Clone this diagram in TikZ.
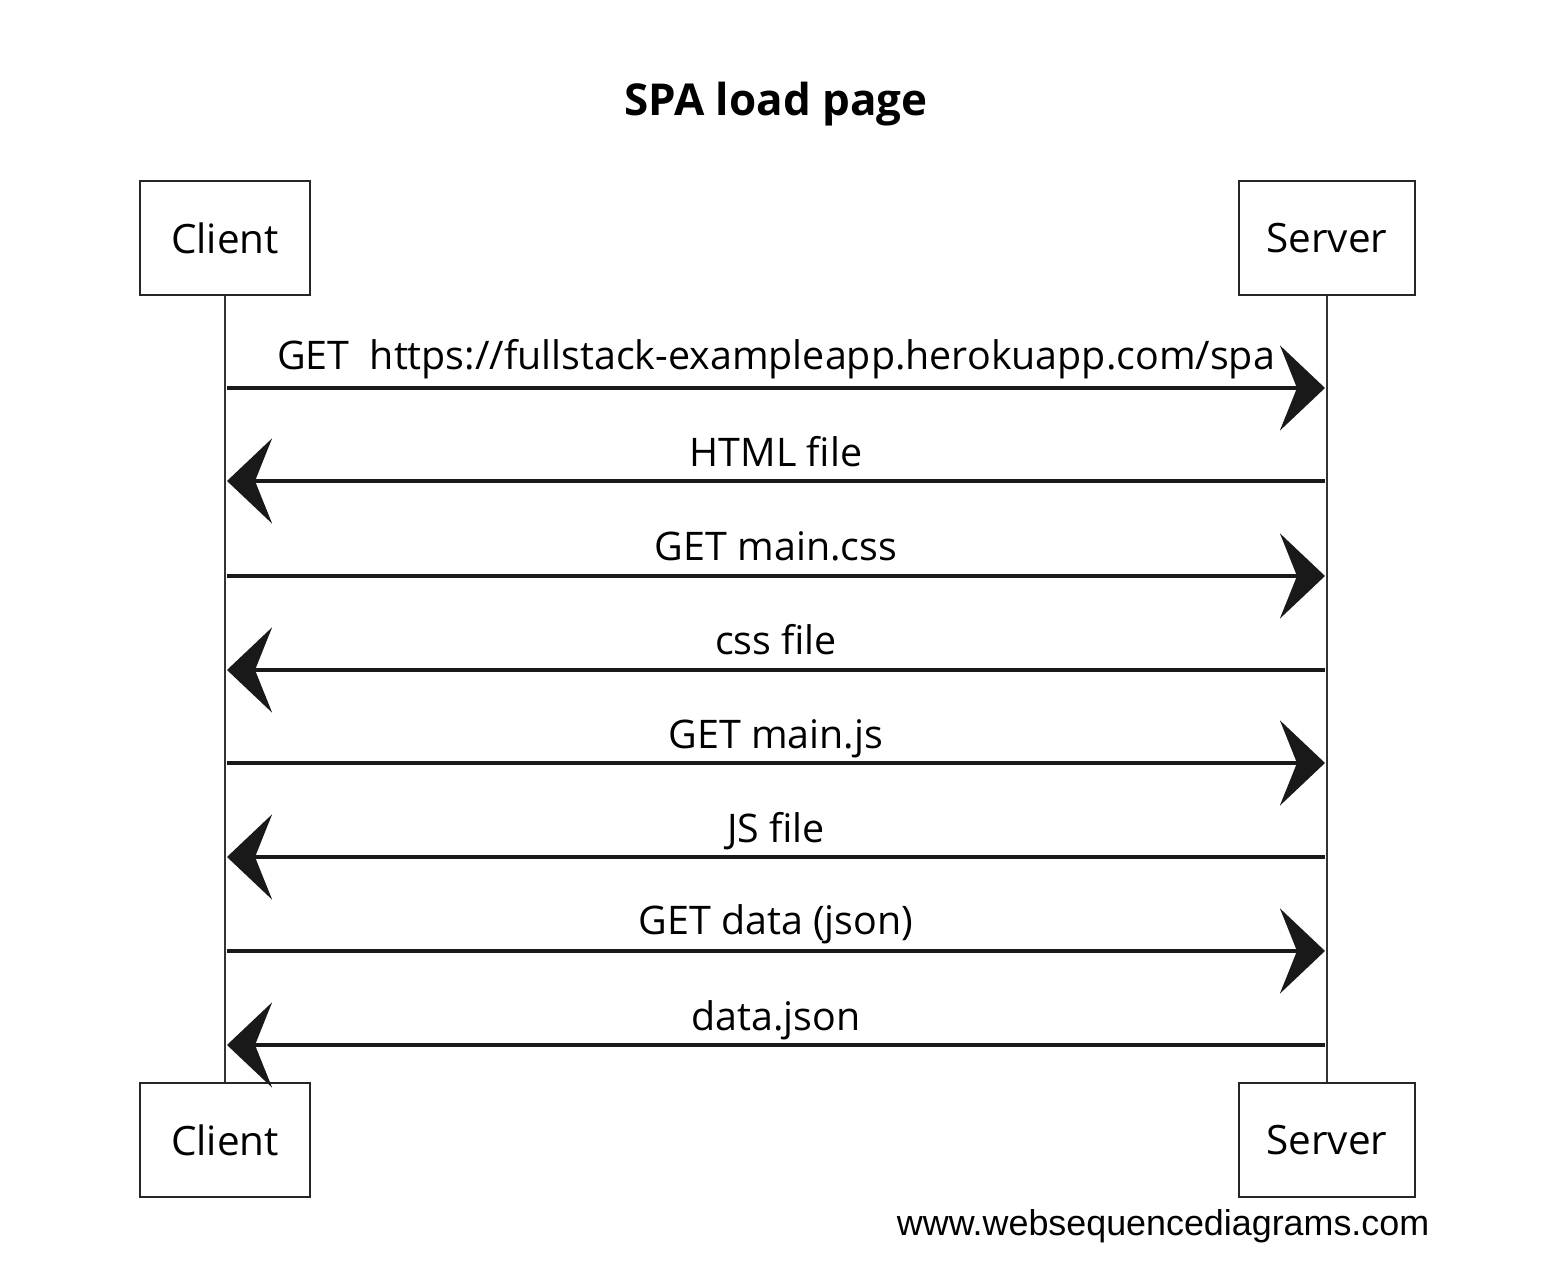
\documentclass[tikz,border=0pt]{standalone}
\usepackage{fontspec}
\setmainfont{Open Sans}
\newfontfamily\footfont{Liberation Sans}
\usetikzlibrary{arrows.meta}
\begin{document}
\begin{tikzpicture}[x=0.01cm,y=-0.01cm,
  actor/.style={draw=black!85,line width=0.75pt,minimum width=1.70cm,minimum height=1.14cm,inner sep=0pt,font=\fontsize{11.5}{13}\selectfont},
  lifeline/.style={draw=black!80,line width=0.55pt},
  msg/.style={draw=black!90,line width=0.9pt,-{Stealth[length=0.45cm,width=0.85cm,inset=0.17cm]}},
  lbl/.style={font=\fontsize{11.2}{13}\selectfont,inner sep=0pt,anchor=base}]
\useasboundingbox (0,0) rectangle (1544,1274);
\fill[white] (0,0) rectangle (1544,1274);
% title
\node[font=\fontsize{12.5}{14}\bfseries\selectfont] (title) at (776,104) {SPA load page};
% actors
\node[actor] (ct) at (225,238) {Client};
\node[actor,minimum width=1.76cm] (st) at (1327,238) {Server};
\node[actor] (cb) at (225,1140) {Client};
\node[actor,minimum width=1.76cm] (sb) at (1327,1140) {Server};
% lifelines
\draw[lifeline] (ct.south) -- (cb.north);
\draw[lifeline] (st.south) -- (sb.north);
% message endpoints
\foreach \i/\y in {1/388,2/481,3/576,4/670,5/763,6/857,7/951,8/1045}{
  \coordinate (c\i) at (227,\y);
  \coordinate (s\i) at (1325,\y);
}
% messages
\draw[msg] (c1) -- (s1);
\draw[msg] (s2) -- (c2);
\draw[msg] (c3) -- (s3);
\draw[msg] (s4) -- (c4);
\draw[msg] (c5) -- (s5);
\draw[msg] (s6) -- (c6);
\draw[msg] (c7) -- (s7);
\draw[msg] (s8) -- (c8);
% labels
\node[lbl] (l1) at (776,370) {GET\ \ https://fullstack-exampleapp.herokuapp.com/spa};
\node[lbl] (l2) at (776,467) {HTML file};
\node[lbl] (l3) at (776,561) {GET main.css};
\node[lbl] (l4) at (776,655) {css file};
\node[lbl] (l5) at (776,749) {GET main.js};
\node[lbl] (l6) at (776,843) {JS file};
\node[lbl] (l7) at (776,935) {GET data (json)};
\node[lbl] (l8) at (776,1031) {data.json};
% footer
\node[font=\footfont\fontsize{10.2}{12}\selectfont,anchor=base east,inner sep=0pt] (foot) at (1430,1236) {www.websequencediagrams.com};
\end{tikzpicture}
\end{document}
